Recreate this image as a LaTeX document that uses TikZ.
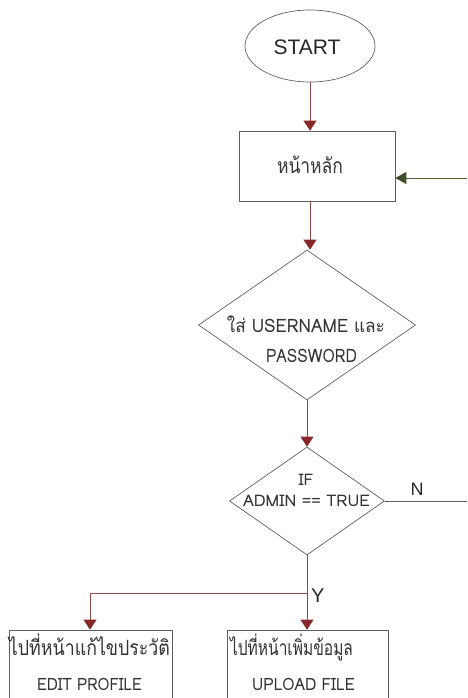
\documentclass[tikz,border=0pt]{standalone}
\usepackage{fontspec}
\usepackage{graphicx}
\setmainfont{Liberation Sans}
\newfontfamily\thaifont[Script=Thai]{Loma}
\usetikzlibrary{arrows.meta,shapes.geometric}
\definecolor{flowred}{RGB}{150,72,72}
\definecolor{tipred}{RGB}{135,40,40}
\definecolor{loopgreen}{RGB}{80,96,50}
\definecolor{edge}{RGB}{95,95,95}
% set a line of text at a given width, keeping its natural height
\newcommand{\fitto}[2]{\resizebox{#1}{\height}{#2}}
\tikzset{
  flow/.style={draw=flowred, line width=0.9pt, -{Triangle[width=13pt,length=10pt,color=tipred]}},
  plain/.style={draw=flowred, line width=0.9pt},
  boxnode/.style={draw=edge, line width=0.7pt, rectangle, inner sep=0pt},
  decision/.style={draw=edge, line width=0.7pt, diamond, aspect=1, inner sep=0pt},
  txt/.style={inner sep=0pt, anchor=base, text=black!80, font=\thaifont},
  latin/.style={inner sep=0pt, anchor=base, text=black!85},
}
\begin{document}
\begin{tikzpicture}[x=1pt, y=-1pt]
  \useasboundingbox (0,0) rectangle (467,698);
  \clip (0,0) rectangle (467,698);

  % start terminal
  \node[draw=edge, line width=0.7pt, ellipse, minimum width=130pt, minimum height=72pt,
        inner sep=0pt] (start) at (310,46) {};
  \node[latin, font=\fontsize{21}{24}\selectfont] (starttxt) at (307,55) {START};

  % home page
  \node[boxnode, minimum width=156pt, minimum height=70pt] (home) at (317,166) {};
  \node[txt, font=\thaifont\fontsize{21}{24}\selectfont] (hometxt) at (310,173) {\fitto{66pt}{หน้าหลัก}};

  % login decision
  \node[decision, minimum width=217pt, minimum height=150pt] (login) at (307,325) {};
  \node[txt, font=\thaifont\fontsize{18.5}{21}\selectfont] (logintxt1) at (306,332) {\fitto{158pt}{ใส่ USERNAME และ}};
  \node[txt, font=\thaifont\fontsize{18.5}{21}\selectfont] (logintxt2) at (311.5,362) {\fitto{91pt}{PASSWORD}};

  % admin decision
  \node[decision, minimum width=155pt, minimum height=108pt] (admin) at (307,501) {};
  \node[txt, font=\thaifont\fontsize{16}{19}\selectfont] (admintxt1) at (306,485) {IF};
  \node[txt, font=\thaifont\fontsize{16}{19}\selectfont] (admintxt2) at (306.5,506) {\fitto{127pt}{ADMIN == TRUE}};

  % target pages
  \node[boxnode, minimum width=163pt, minimum height=80pt] (edit) at (90.5,670) {};
  \node[txt, font=\thaifont\fontsize{21}{24}\selectfont] (edittxt1) at (89.5,655) {\fitto{161pt}{ไปที่หน้าแก้ไขประวัติ}};
  \node[txt, font=\thaifont\fontsize{17}{20}\selectfont] (edittxt2) at (89.5,690) {\fitto{105pt}{EDIT PROFILE}};

  \node[boxnode, minimum width=161pt, minimum height=80pt] (upload) at (307.5,670) {};
  \node[txt, font=\thaifont\fontsize{21}{24}\selectfont] (uploadtxt1) at (291.5,655) {\fitto{123pt}{ไปที่หน้าเพิ่มข้อมูล}};
  \node[txt, font=\thaifont\fontsize{17}{20}\selectfont] (uploadtxt2) at (303.5,690) {\fitto{103pt}{UPLOAD FILE}};

  % connector helpers
  \coordinate (loopin) at (467,178);
  \coordinate (noexit) at (467,501);
  \coordinate (split) at (307,593);
  \coordinate (splitleft) at (90,593);

  % connectors
  \draw[flow] (start.south -| 310,0) -- (home.north -| 310,0);
  \draw[flow] (home.south -| 310,0) -- (login.north -| 310,0);
  \draw[flow] (login.south) -- (admin.north);
  \draw[draw=loopgreen, line width=0.9pt, -{Triangle[width=12pt,length=11pt,color=loopgreen!80!black]}] (loopin) -- (home.east |- loopin);
  \draw[draw=edge, line width=0.7pt] (admin.east) -- (noexit);
  \node[latin, font=\fontsize{18}{21}\selectfont] (nlabel) at (417,495) {N};
  \draw[plain] (admin.south) -- (split);
  \draw[plain] (split) -- (splitleft);
  \draw[flow] (splitleft) -- (edit.north -| splitleft);
  \draw[flow] (split) -- (upload.north -| split);
  \node[latin, font=\fontsize{20}{23}\selectfont, anchor=base west] (ylabel) at (311,602) {Y};
\end{tikzpicture}
\end{document}
